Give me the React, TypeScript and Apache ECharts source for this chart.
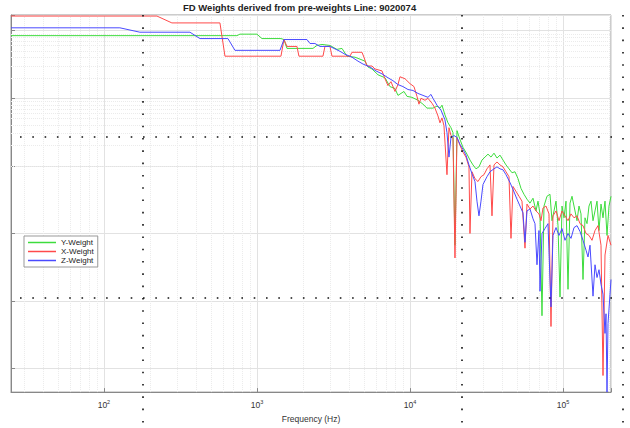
import React, { useEffect, useRef } from "react";
import * as echarts from "echarts";

const TITLE = "FD Weights derived from pre-weights Line: 9020074";
const X_NAME = "Frequency (Hz)";
const SERIES_NAMES = ["Y-Weight", "X-Weight", "Z-Weight"];
const SERIES_COLORS = ["#3ddc3d", "#ff4a4a", "#4a4aff"];

// Y-Weight (green)
const freqY = [24.7, 740, 774, 1000, 1078, 1435, 1501, 1571, 2322, 2467, 2659, 3000, 3333, 3594, 3875, 4370, 4712, 5080, 5315, 5644, 6178, 6864, 7400, 7979, 8347, 9136, 9559, 10306, 11279, 12161, 12915, 14135, 15012, 15705, 16185, 16932, 17714, 18533, 19098, 19682, 20283, 21219, 22199, 23576, 24665, 25804, 26998, 28244, 29551, 30916, 32344, 33838, 35400, 37035, 38746, 40535, 42407, 44365, 46414, 48558, 50800, 53146, 55601, 58169, 60855, 63666, 66606, 68641, 70738, 72900, 75128, 78597, 82227, 84740, 87329, 90000, 92750, 95585, 98506, 101516, 104620, 107810, 111110, 114500, 119790, 123450, 127220, 131110, 135120, 139240, 143500, 147880, 152400, 157050, 161850, 166800, 171890, 177140, 182560, 188130, 193880, 199800, 205900];
const valY = [0.846, 0.846, 0.89, 0.89, 0.766, 0.766, 0.741, 0.548, 0.548, 0.606, 0.627, 0.606, 0.53, 0.548, 0.42, 0.406, 0.38, 0.355, 0.291, 0.272, 0.223, 0.2015, 0.149, 0.1396, 0.1105, 0.1263, 0.1069, 0.1034, 0.09354, 0.08185, 0.07162, 0.07162, 0.07656, 0.07162, 0.07916, 0.0567, 0.04341, 0.03674, 0.03109, 0.00067, 0.03324, 0.02461, 0.01885, 0.01492, 0.01221, 0.01034, 0.009047, 0.009672, 0.01221, 0.0135, 0.01492, 0.0135, 0.01543, 0.01306, 0.01443, 0.01221, 0.01034, 0.009047, 0.007916, 0.008185, 0.00648, 0.004641, 0.003799, 0.003215, 0.002813, 0.003324, 0.002154, 0.003007, 0.001949, 0.0000606, 0.002545, 0.003553, 0.003799, 0.001543, 0.002154, 0.003007, 0.001306, 0.0001143, 0.002545, 0.001705, 0.003007, 0.0001492, 0.002813, 0.003553, 0.002154, 0.001543, 0.002545, 0.001949, 0.0002083, 0.001705, 0.001396, 0.002545, 0.003007, 0.001543, 0.002154, 0.003007, 0.001105, 0.002721, 0.001705, 0.003007, 0.0009354, 0.002545, 0.003553];

// X-Weight (red)
const freqX = [24.7, 222, 278, 573, 618, 1435, 1501, 1571, 1826, 1881, 2700, 2782, 3000, 3092, 4054, 4177, 4856, 5004, 5235, 5644, 5905, 6561, 6864, 7181, 7513, 7979, 8347, 8603, 9275, 10000, 10620, 11111, 11450, 11800, 12532, 13111, 13924, 14567, 15240, 15705, 16185, 16680, 17450, 17983, 18533, 19098, 19682, 20283, 21219, 22199, 23224, 24296, 24665, 25418, 26592, 27822, 29110, 30454, 31861, 33332, 34351, 35400, 37035, 38746, 40535, 42407, 44365, 45721, 47118, 49294, 51571, 53952, 56444, 58169, 60855, 63666, 66606, 69682, 71811, 74005, 77423, 80999, 83474, 86025, 90000, 94157, 98506, 103060, 107810, 112790, 118000, 123450, 129150, 135120, 141350, 147880, 154710, 161850, 169320, 177140, 182560, 188130, 196820, 205900];
const valX = [1.65, 1.65, 1.306, 1.306, 0.42, 0.42, 0.741, 0.586, 0.586, 0.42, 0.42, 0.586, 0.586, 0.42, 0.42, 0.48, 0.48, 0.406, 0.3007, 0.3007, 0.272, 0.2545, 0.1949, 0.1543, 0.1763, 0.1263, 0.1595, 0.2083, 0.1949, 0.1649, 0.1492, 0.1069, 0.08185, 0.1, 0.09354, 0.1, 0.08463, 0.07162, 0.05484, 0.04341, 0.0513, 0.03928, 0.007405, 0.03674, 0.02813, 0.02631, 0.000434, 0.02631, 0.02015, 0.01595, 0.0135, 0.009672, 0.001, 0.008185, 0.00648, 0.005862, 0.006927, 0.007405, 0.009047, 0.01034, 0.001823, 0.01034, 0.01143, 0.01034, 0.009672, 0.008185, 0.006927, 0.000846, 0.004961, 0.004199, 0.003553, 0.003007, 0.000606, 0.002721, 0.002302, 0.002545, 0.002154, 0.001949, 0.001543, 0.002381, 0.002545, 0.001949, 0.000042, 0.001823, 0.002154, 0.001543, 0.002154, 0.001823, 0.001543, 0.001949, 0.001705, 0.001823, 0.001396, 0.001306, 0.001, 0.0009354, 0.0007916, 0.001105, 0.001306, 0.00067, 0.0000079, 0.00048, 0.0009354, 0.00067];

// Z-Weight (blue)
const freqZ = [24.7, 127.2, 171.9, 364.8, 424.1, 646.3, 718.1, 1414, 1501, 2122, 2220, 2393, 2580, 3000, 3487, 3760, 4177, 4572, 4929, 5477, 5995, 6561, 7181, 7742, 8347, 9000, 9703, 10462, 11279, 12161, 13111, 13716, 14135, 15012, 15944, 16932, 17450, 17983, 18533, 19388, 20283, 21219, 22199, 23224, 24296, 25418, 26592, 27407, 28244, 29110, 29999, 31861, 33332, 35400, 37035, 38746, 40535, 42407, 45038, 47118, 50042, 52353, 54770, 56444, 58169, 60855, 63666, 65611, 67616, 69682, 70738, 72900, 76267, 79789, 83474, 86025, 90000, 94157, 98506, 103060, 107810, 112790, 118000, 123450, 129150, 135120, 141350, 145670, 150120, 157050, 161850, 166800, 171890, 177140, 182560, 188130, 190980, 193880, 196820, 202830, 205900];
const valZ = [1.105, 1.105, 0.951, 0.951, 0.766, 0.766, 0.513, 0.513, 0.741, 0.741, 0.648, 0.648, 0.586, 0.586, 0.496, 0.449, 0.406, 0.355, 0.3215, 0.291, 0.2545, 0.2302, 0.2015, 0.1823, 0.1595, 0.1492, 0.135, 0.1306, 0.1181, 0.1105, 0.1034, 0.1143, 0.1, 0.07916, 0.06699, 0.04798, 0.03109, 0.0135, 0.02631, 0.02813, 0.02631, 0.02083, 0.01763, 0.01443, 0.01034, 0.007656, 0.005862, 0.003007, 0.001823, 0.003007, 0.005304, 0.006927, 0.008185, 0.009047, 0.009672, 0.009047, 0.00875, 0.007405, 0.00567, 0.004488, 0.003215, 0.002545, 0.002015, 0.00074, 0.002154, 0.002302, 0.001649, 0.001396, 0.000344, 0.001105, 0.0001396, 0.001, 0.001181, 0.001396, 0.0000819, 0.0009354, 0.001221, 0.0009354, 0.001181, 0.0007916, 0.001, 0.000846, 0.001221, 0.001306, 0.001069, 0.0007916, 0.000567, 0.000449, 0.00067, 0.0001181, 0.000344, 0.0002227, 0.0002908, 0.0001763, 0.0001263, 0.0000332, 0.0000648, 0.0000045, 0.0000464, 0.0001263, 0.0002083];

const X_MIN = 24.7;
const X_MAX = 205900;
const Y_MIN = 4.49e-6;
const Y_MAX = 1.71;

const zip = (xs: number[], ys: number[]) => xs.map((x, i) => [x, ys[i]]);

function minorValues(lo: number, hi: number, eLo: number, eHi: number) {
  const out: number[] = [];
  for (let e = eLo; e <= eHi; e++) {
    for (let m = 2; m <= 9; m++) {
      const v = m * Math.pow(10, e);
      if (v > lo && v < hi) out.push(v);
    }
  }
  return out;
}

export default function App() {
  const ref = useRef<HTMLDivElement>(null);
  useEffect(() => {
    if (!ref.current) return;
    const chart = echarts.init(ref.current, undefined, { renderer: "svg" });
    const xMinor = minorValues(X_MIN, X_MAX, 1, 5);
    const yMinor = minorValues(Y_MIN, Y_MAX, -6, 0);
    const font = "'Liberation Sans', Arial, sans-serif";
    const guide = (x1: number, y1: number, x2: number, y2: number) => ({
      type: "line",
      shape: { x1, y1, x2, y2 },
      silent: true,
      z: 100,
      style: { stroke: "#111", lineWidth: 1.6, lineDash: [1.6, 10.7], fill: null },
    });
    const lineSeries = (i: number, data: number[][]) => ({
      name: SERIES_NAMES[i],
      type: "line",
      data,
      showSymbol: false,
      symbol: "none",
      z: 3 + i,
      color: SERIES_COLORS[i],
      lineStyle: { width: 1, color: SERIES_COLORS[i] },
    });
    chart.setOption({
      animation: false,
      backgroundColor: "#fff",
      textStyle: { fontFamily: font },
      title: {
        text: TITLE,
        left: 183,
        top: 2,
        padding: 0,
        textStyle: { fontSize: 9.5, fontWeight: "bold", color: "#222", fontFamily: font },
      },
      legend: {
        orient: "vertical",
        left: 24,
        top: 236,
        padding: [2, 4, 2, 4],
        itemGap: 0,
        itemWidth: 28,
        itemHeight: 1.5,
        icon: "rect",
        borderColor: "#999",
        borderWidth: 1,
        borderRadius: 0,
        backgroundColor: "#fff",
        textStyle: { fontSize: 8, lineHeight: 9, color: "#222", fontFamily: font },
        data: SERIES_NAMES,
      },
      grid: {
        left: 11,
        right: 19,
        top: 15,
        bottom: 28,
        show: true,
        borderColor: "#999",
        borderWidth: 1,
        backgroundColor: "#fff",
      },
      xAxis: {
        type: "log",
        logBase: 10,
        min: X_MIN,
        max: X_MAX,
        name: X_NAME,
        nameLocation: "middle",
        nameGap: 18,
        nameTextStyle: { fontSize: 8.5, color: "#333", fontFamily: font },
        axisLine: { lineStyle: { color: "#888" } },
        axisTick: { inside: true, length: 4, lineStyle: { color: "#888" } },
        axisLabel: {
          margin: 7,
          color: "#333",
          formatter: (v: number) => {
            const e = Math.log10(v);
            if (Math.abs(e - Math.round(e)) < 1e-6) return `{b|10}{s|${Math.round(e)}}`;
            return "";
          },
          rich: {
            b: { fontSize: 8.5, color: "#333", fontFamily: font, lineHeight: 11 },
            s: { fontSize: 5.5, color: "#333", fontFamily: font, lineHeight: 6, verticalAlign: "top" },
          },
        },
        splitLine: { show: true, lineStyle: { color: "#e2e2e2", width: 1 } },
      },
      yAxis: {
        type: "log",
        logBase: 10,
        min: Y_MIN,
        max: Y_MAX,
        axisLine: { show: true, lineStyle: { color: "#888" } },
        axisTick: { show: true, inside: true, length: 4, lineStyle: { color: "#888" } },
        axisLabel: { show: false },
        splitLine: { show: true, lineStyle: { color: "#e2e2e2", width: 1 } },
      },
      graphic: [
        guide(20, 137, 612, 137),
        guide(20, 298, 612, 298),
        guide(143, 15, 143, 428),
        guide(462, 15, 462, 428),
        guide(623, 15, 623, 428),
      ],
      series: [
        {
          name: "grid-minor",
          type: "line",
          data: [],
          z: 1,
          silent: true,
          markLine: {
            z: 1,
            silent: true,
            symbol: ["none", "none"],
            label: { show: false },
            lineStyle: { color: "#ebebeb", type: "dotted", width: 1 },
            data: [
              ...xMinor.map((v) => ({ xAxis: v })),
              ...yMinor.map((v) => ({ yAxis: v })),
            ],
          },
        },
        lineSeries(0, zip(freqY, valY)),
        lineSeries(1, zip(freqX, valX)),
        lineSeries(2, zip(freqZ, valZ)),
      ],
    });
    return () => chart.dispose();
  }, []);
  return (
    <div
      ref={ref}
      style={{ position: "fixed", left: 0, top: 0, width: 630, height: 428 }}
    />
  );
}
